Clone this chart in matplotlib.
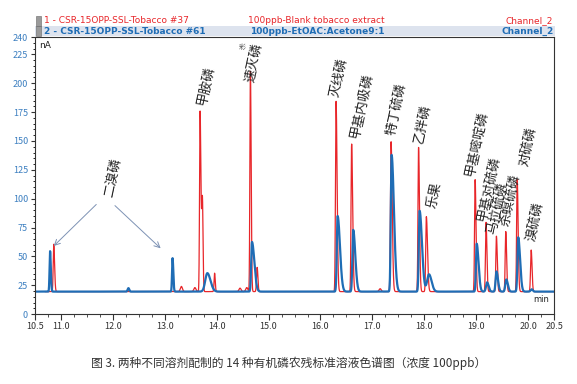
import numpy as np
import matplotlib
matplotlib.use("Agg")
import matplotlib.pyplot as plt
from matplotlib.patches import Rectangle

plt.rcParams['font.family'] = ['Noto Sans CJK SC', 'DejaVu Sans']

# peak tables (retention time min, height above baseline nA, left/right width)
baseline = 19.5

red_rt = [10.86, 13.32, 13.58, 13.68, 13.725, 13.96, 14.45, 14.58, 14.65, 14.78,
          16.30, 16.60, 17.15, 17.36, 17.89, 18.04, 18.98, 19.19, 19.39, 19.57, 19.79, 20.06]
red_h = [41, 4.5, 3.5, 156, 80, 16, 3, 3.5, 191, 21,
         165, 128, 2.5, 130, 125, 65, 97, 60, 48, 52, 97, 36]
red_wl = [0.010, 0.020, 0.020, 0.010, 0.014, 0.010, 0.02, 0.02, 0.010, 0.012,
          0.011, 0.011, 0.02, 0.012, 0.011, 0.012, 0.011, 0.011, 0.011, 0.011, 0.011, 0.012]
red_wr = [0.016, 0.020, 0.020, 0.016, 0.012, 0.012, 0.02, 0.02, 0.014, 0.014,
          0.020, 0.020, 0.02, 0.022, 0.018, 0.022, 0.016, 0.016, 0.016, 0.016, 0.018, 0.016]

blue_rt = [10.79, 12.30, 13.15, 13.82, 14.68, 16.33, 16.63, 17.37, 17.91, 18.09,
           19.01, 19.21, 19.39, 19.58, 19.81, 20.07]
blue_h = [35, 3, 29, 16, 43, 65.5, 53.5, 118.5, 70, 15,
          41.5, 8, 17.5, 10.5, 47, 2]
blue_wl = [0.010, 0.015, 0.010, 0.040, 0.015, 0.015, 0.015, 0.015, 0.015, 0.035,
           0.014, 0.020, 0.016, 0.018, 0.015, 0.02]
blue_wr = [0.014, 0.015, 0.014, 0.060, 0.045, 0.045, 0.040, 0.045, 0.045, 0.050,
           0.035, 0.030, 0.030, 0.030, 0.035, 0.02]

pesticides = ['二溴磷', '甲胺磷', '速灭磷', '灭线磷', '甲基内吸磷', '特丁硫磷', '乙拌磷',
              '乐果', '甲基嘧啶磷', '甲基对硫磷', '马拉硫磷', '杀螟硫磷', '对硫磷', '溴硫磷']
label_pos = [(12.0, 118), (13.80, 198), (14.71, 218), (16.37, 205), (16.79, 181),
             (17.47, 178), (17.97, 165), (18.20, 103), (19.01, 148), (19.25, 109),
             (19.40, 92), (19.66, 99), (20.0, 145), (20.13, 80)]

x_ticks = [10.5, 11.0, 12.0, 13.0, 14.0, 15.0, 16.0, 17.0, 18.0, 19.0, 20.0, 20.5]
y_ticks = [0, 25, 50, 75, 100, 125, 150, 175, 200, 225, 240]


def trace(t, rts, hs, wl, wr):
    y = np.full_like(t, baseline)
    for rt, h, a, b in zip(rts, hs, wl, wr):
        s = np.where(t < rt, a, b)
        y += h * np.exp(-0.5 * ((t - rt) / s) ** 2)
    return y


t = np.linspace(10.5, 20.5, 6000)
red_y = trace(t, red_rt, red_h, red_wl, red_wr)
blue_y = trace(t, blue_rt, blue_h, blue_wl, blue_wr)
red_y[t < 10.70] = np.nan

fig = plt.figure(figsize=(5.77, 3.84), dpi=100)
ax = fig.add_axes([0.0607, 0.182, 0.8995, 0.7214])

ax.plot(t, red_y, color='#e8262a', lw=0.9)
ax.plot(t, blue_y, color='#1f6db5', lw=1.6)

ax.set_xlim(10.5, 20.5)
ax.set_ylim(0, 240)
ax.set_xticks(x_ticks)
ax.set_xticklabels(['%.1f' % v for v in x_ticks])
ax.set_xticks(np.arange(10.5, 20.51, 0.25), minor=True)
ax.set_yticks(y_ticks)
ax.set_yticklabels([str(v) for v in y_ticks])
ax.set_yticks(np.arange(0, 241, 5), minor=True)
ax.tick_params(axis='x', labelsize=6.5, colors='#333333', length=4, width=0.8, pad=2)
ax.tick_params(axis='x', which='minor', length=2, width=0.6, colors='#333333')
ax.tick_params(axis='y', labelsize=6.5, labelcolor='#3c7fc0', color='#333333', length=3, width=0.8, pad=2)
ax.tick_params(axis='y', which='minor', length=1.5, width=0.6)
for sp in ax.spines.values():
    sp.set_color('#333333')
    sp.set_linewidth(0.8)

ax.text(0.008, 0.985, 'nA', transform=ax.transAxes, fontsize=6.5, va='top', ha='left',
        family='DejaVu Sans', color='#222222')
ax.text(0.99, 0.035, 'min', transform=ax.transAxes, fontsize=6, va='bottom', ha='right',
        family='DejaVu Sans', color='#222222')
ax.text(0.40, 0.98, '彩', transform=ax.transAxes, fontsize=5, va='top', ha='center', color='#555555')

for name, (x, y) in zip(pesticides, label_pos):
    ax.text(x, y, name, rotation=78, fontsize=9.5, ha='center', va='center',
            color='#222222', rotation_mode='anchor')

arrow_style = dict(arrowstyle='->', color='#7d92b4', lw=0.7, shrinkA=0, shrinkB=0)
ax.annotate('', xy=(10.86, 59), xytext=(11.68, 95), arrowprops=arrow_style)
ax.annotate('', xy=(12.92, 57), xytext=(12.04, 94), arrowprops=arrow_style)

# header rows
fig.patches.append(Rectangle((0.0607, 0.906), 0.9015, 0.025, transform=fig.transFigure,
                             facecolor='#dde3ee', edgecolor='none'))
for yy in (0.946, 0.918):
    fig.patches.append(Rectangle((0.063, yy - 0.013), 0.008, 0.026, transform=fig.transFigure,
                                 facecolor='#9a9a9a', edgecolor='#666666', lw=0.4))
fig.text(0.077, 0.946, '1 - CSR-15OPP-SSL-Tobacco #37', color='#e8262a', fontsize=6.5,
         va='center', family='DejaVu Sans')
fig.text(0.430, 0.946, '100ppb-Blank tobacco extract', color='#e8262a', fontsize=6.5,
         va='center', family='DejaVu Sans')
fig.text(0.959, 0.946, 'Channel_2', color='#e8262a', fontsize=6.5, va='center', ha='right',
         family='DejaVu Sans')
fig.text(0.077, 0.918, '2 - CSR-15OPP-SSL-Tobacco #61', color='#1f6db5', fontsize=6.5,
         va='center', family='DejaVu Sans', fontweight='bold')
fig.text(0.433, 0.918, '100ppb-EtOAC:Acetone9:1', color='#1f6db5', fontsize=6.5,
         va='center', family='DejaVu Sans', fontweight='bold')
fig.text(0.959, 0.918, 'Channel_2', color='#1f6db5', fontsize=6.5, va='center', ha='right',
         family='DejaVu Sans', fontweight='bold')

fig.text(0.5, 0.055, '图 3. 两种不同溶剂配制的 14 种有机磷农残标准溶液色谱图（浓度 100ppb）',
         ha='center', va='center', fontsize=8.5, color='#333333')

fig.savefig('out.png', dpi=100)
